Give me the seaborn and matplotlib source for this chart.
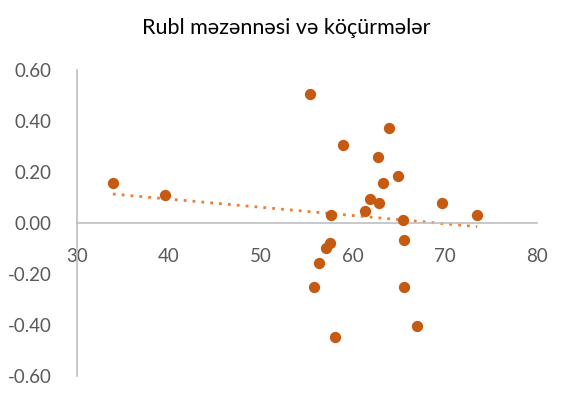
import numpy as np
import pandas as pd
import matplotlib
matplotlib.use("Agg")
import matplotlib.pyplot as plt
import seaborn as sns

# Rubl məzənnəsi (x) və köçürmələr (y)
rubl = [33.9, 39.6, 55.3, 63.9, 58.9, 62.7, 64.9, 63.3, 61.9, 62.8, 69.7, 61.3,
        57.6, 73.5, 65.4, 65.5, 57.5, 57.1, 56.3, 55.8, 65.6, 67.0, 58.1]
kocurme = [0.157, 0.11, 0.506, 0.374, 0.307, 0.259, 0.184, 0.158, 0.093, 0.08, 0.08, 0.048,
           0.033, 0.033, 0.013, -0.067, -0.077, -0.098, -0.156, -0.25, -0.25, -0.403, -0.446]
x_ticks = [30, 40, 50, 60, 70, 80]
y_ticks = [-0.6, -0.4, -0.2, 0.0, 0.2, 0.4, 0.6]

df = pd.DataFrame({"rubl": rubl, "kocurme": kocurme})

sns.set_style("white")
plt.rcParams["font.family"] = ["Lato", "DejaVu Sans"]

fig = plt.figure(figsize=(5.64, 3.94), dpi=100)
ax = fig.add_axes([0.1365, 0.0457, 0.8155, 0.7763])

sns.regplot(data=df, x="rubl", y="kocurme", ax=ax, ci=None, truncate=True,
            scatter_kws={"s": 66, "color": "#C55A11", "alpha": 1, "linewidths": 0, "zorder": 3},
            line_kws={"color": "#ED7D31", "linestyle": (0, (1, 2.2)), "linewidth": 2, "zorder": 2})

ax.set_xlim(30, 80)
ax.set_ylim(-0.6, 0.6)
ax.set_xticks(x_ticks)
ax.set_yticks(y_ticks)
ax.set_yticklabels([f"{v:.2f}" for v in y_ticks])
ax.set_xlabel("")
ax.set_ylabel("")

for s in ["top", "right"]:
    ax.spines[s].set_visible(False)
ax.spines["bottom"].set_position(("data", 0))
ax.spines["bottom"].set_color("#BFBFBF")
ax.spines["left"].set_color("#BFBFBF")
ax.spines["bottom"].set_linewidth(1.2)
ax.spines["left"].set_linewidth(1.2)
ax.tick_params(axis="both", length=0, labelsize=13.5, colors="#595959")
ax.tick_params(axis="x", pad=18)
ax.tick_params(axis="y", pad=18)

fig.text(0.507, 0.928, "Rubl məzənnəsi və köçürmələr", ha="center", va="center",
         fontsize=15.5, color="#000000")

fig.savefig("out.png", dpi=100)
